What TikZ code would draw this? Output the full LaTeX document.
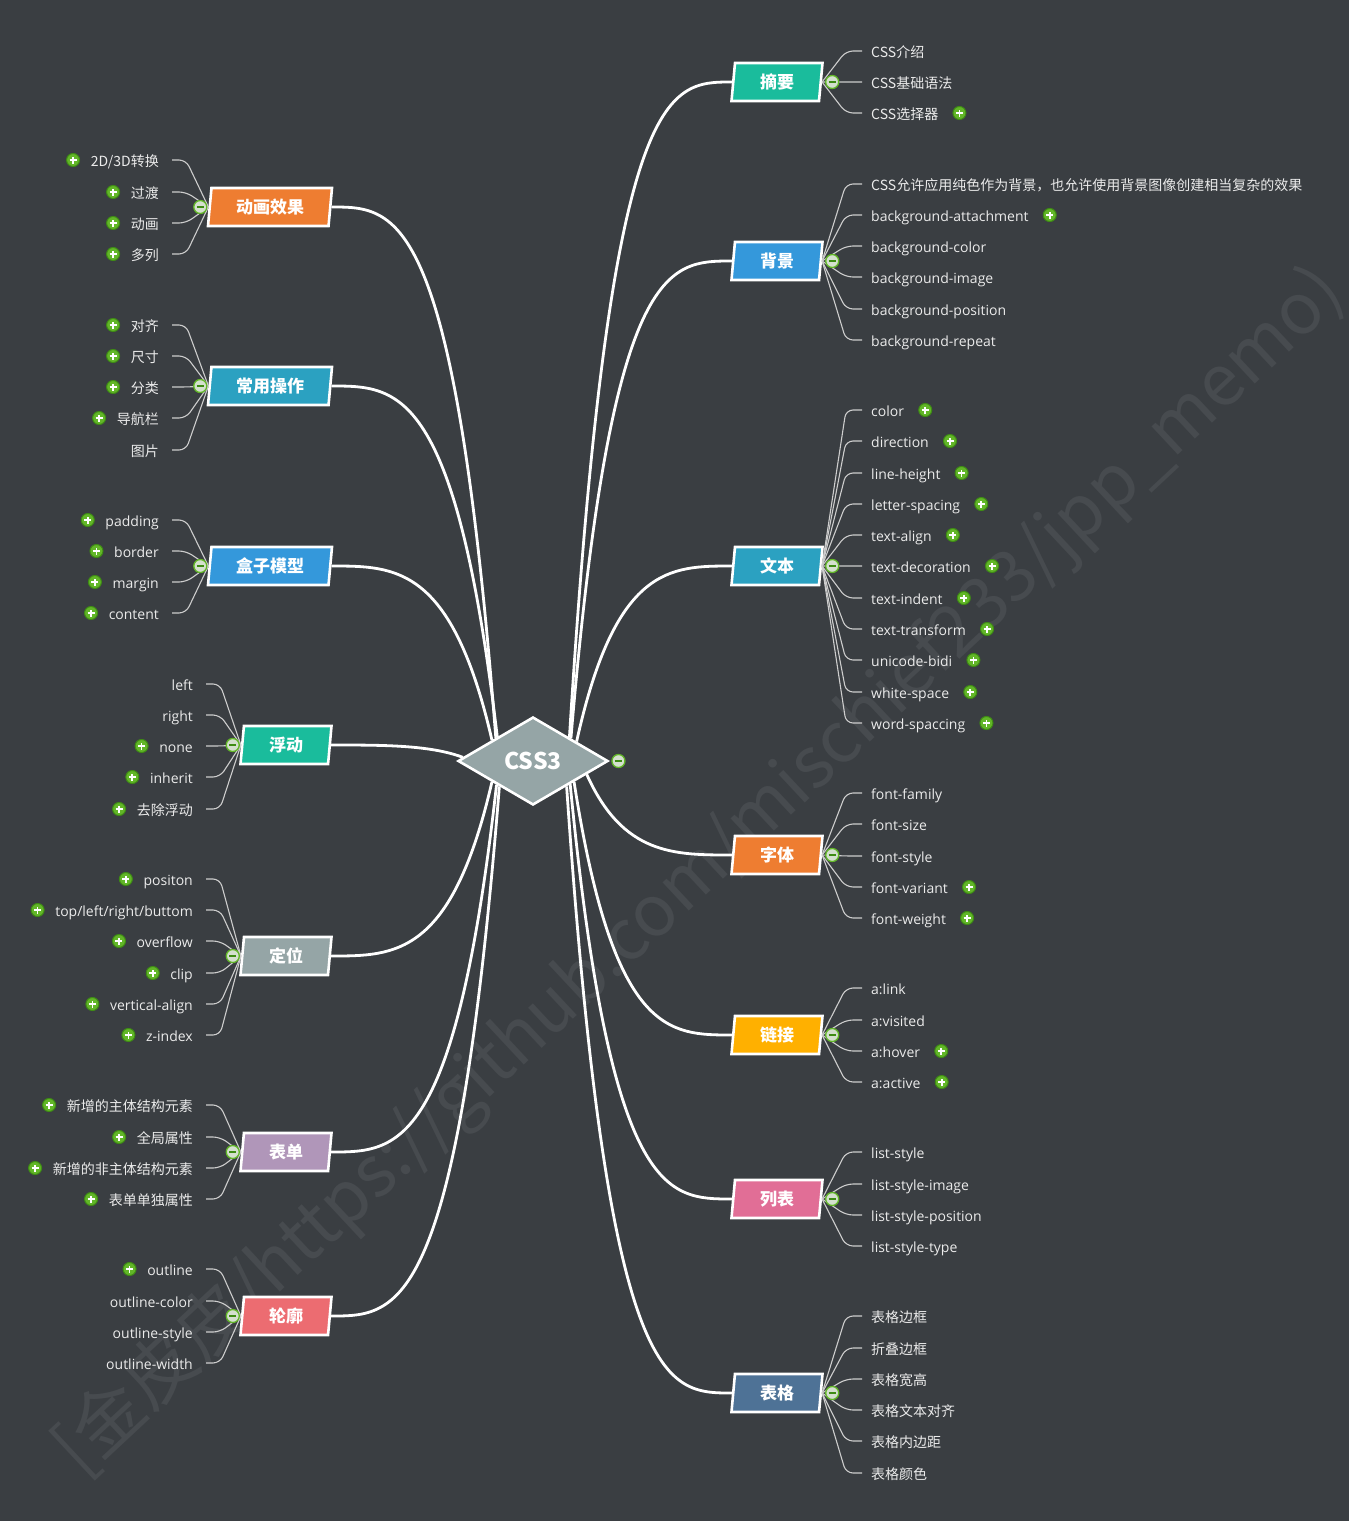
\documentclass[tikz,border=0pt]{standalone}
\usepackage{fontspec}
\setmainfont{Open Sans}
\newfontfamily\cjk{Noto Sans CJK SC}
\usetikzlibrary{shapes.geometric,positioning,calc}

\definecolor{canvas}{RGB}{58,62,66}
\definecolor{wmark}{RGB}{71,75,79}
\definecolor{hubgray}{RGB}{149,165,166}
\definecolor{cteal}{RGB}{26,188,156}
\definecolor{cblue}{RGB}{52,152,219}
\definecolor{ccyan}{RGB}{43,161,193}
\definecolor{corange}{RGB}{238,125,49}
\definecolor{camber}{RGB}{255,176,0}
\definecolor{cpink}{RGB}{225,110,150}
\definecolor{cslate}{RGB}{78,114,150}
\definecolor{cpurple}{RGB}{176,150,185}
\definecolor{cred}{RGB}{236,108,113}
\definecolor{leaftext}{RGB}{235,235,235}
\definecolor{twiggray}{RGB}{205,205,205}
\definecolor{dotgreen}{RGB}{98,182,40}
\definecolor{dotedge}{RGB}{62,140,20}
\definecolor{dotpale}{RGB}{212,224,206}

\tikzset{
  hub/.style={diamond, aspect=1.7, draw=white, line width=2.6pt, fill=hubgray,
    minimum width=150pt, minimum height=88pt, inner sep=0pt, text=white,
    font=\cjk\bfseries\fontsize{23}{26}\selectfont},
  branch/.style={trapezium, trapezium left angle=78, trapezium right angle=102,
    trapezium stretches body=true, draw=white, line width=2.6pt,
    minimum height=38pt, minimum width=91pt, inner sep=0pt, text=white,
    font=\cjk\bfseries\fontsize{17}{20}\selectfont},
  wide/.style={minimum width=124pt},
  leafr/.style={anchor=west, inner xsep=0pt, inner ysep=0pt, text height=15pt,
    text depth=1.5pt, text=leaftext, font=\fontsize{14}{16}\selectfont},
  leafl/.style={leafr, anchor=east},
  cn/.style={font=\cjk\fontsize{14}{16}\selectfont},
  twig/.style={draw=twiggray, line width=1.1pt, rounded corners=7pt},
  limb/.style={draw=white, line width=2.8pt},
  plusdot/.style={circle, draw=dotedge, fill=dotgreen, line width=1pt,
    minimum size=13pt, inner sep=0pt,
    path picture={\draw[white, line width=1.7pt]
      (path picture bounding box.west) ++(3pt,0) -- ++(7pt,0)
      (path picture bounding box.south) ++(0,3pt) -- ++(0,7pt);}},
  minusdot/.style={circle, draw=dotgreen, fill=dotpale, line width=1.3pt,
    minimum size=13pt, inner sep=0pt,
    path picture={\draw[dotedge, line width=1.8pt]
      (path picture bounding box.west) ++(3pt,0) -- ++(7pt,0);}}
}

% main connector from the hub to a branch
\newcommand{\limb}[2]{\draw[limb] let \p1=(#1), \p2=(#2) in (\p1)
  .. controls ({\x1+0.25*(\x2-\x1)},\y2) and ({\x1+0.6*(\x2-\x1)},\y2) .. (\p2);}

\begin{document}
\begin{tikzpicture}[x=1pt, y=-1pt]
\useasboundingbox (0,0) rectangle (1349,1521);
\fill[canvas] (0,0) rectangle (1349,1521);
\node[rotate=43, text=wmark, font=\cjk\fontsize{71}{76}\selectfont] (mark) at (700,872)
  {[金皮皮/https://github.com/mischief233/jpp\_memo)};

% hub and branches
\node[hub] (css) at (533,761) {CSS3};

\node[branch, fill=cteal] (zhaiyao) at (777,82) {摘要};
\node[branch, fill=cblue] (beijing) at (777,261) {背景};
\node[branch, fill=ccyan] (wenben) at (777,566) {文本};
\node[branch, fill=corange] (ziti) at (777,855) {字体};
\node[branch, fill=camber] (lianjie) at (777,1035) {链接};
\node[branch, fill=cpink] (liebiao) at (777,1199) {列表};
\node[branch, fill=cslate] (biaoge) at (777,1393) {表格};

\node[branch, wide, fill=corange] (donghua) at (270,207) {动画效果};
\node[branch, wide, fill=ccyan] (caozuo) at (270,386) {常用操作};
\node[branch, wide, fill=cblue] (hezi) at (270,566) {盒子模型};
\node[branch, fill=cteal] (fudong) at (286,745) {浮动};
\node[branch, fill=hubgray] (dingwei) at (286,956) {定位};
\node[branch, fill=cpurple] (biaodan) at (286,1152) {表单};
\node[branch, fill=cred] (lunkuo) at (286,1316) {轮廓};

\limb{css.33}{zhaiyao.west}
\limb{css.31}{beijing.west}
\limb{css.24}{wenben.west}
\limb{css.-14}{ziti.west}
\limb{css.-27}{lianjie.west}
\limb{css.-32}{liebiao.west}
\limb{css.-37}{biaoge.west}
\limb{css.148}{donghua.east}
\limb{css.146}{caozuo.east}
\limb{css.153}{hezi.east}
\limb{css.177}{fudong.east}
\limb{css.207}{dingwei.east}
\limb{css.213}{biaodan.east}
\limb{css.217}{lunkuo.east}

% right leaves
\node[leafr, cn] (zy1) at (871,51) {CSS介绍};
\node[leafr, cn] (zy2) at (871,82) {CSS基础语法};
\node[leafr, cn] (zy3) at (871,113) {CSS选择器};

\node[leafr, cn] (bj1) at (871,184) {CSS允许应用纯色作为背景，也允许使用背景图像创建相当复杂的效果};
\node[leafr] (bj2) at (871,215) {background-attachment};
\node[leafr] (bj3) at (871,246) {background-color};
\node[leafr] (bj4) at (871,277) {background-image};
\node[leafr] (bj5) at (871,309) {background-position};
\node[leafr] (bj6) at (871,340) {background-repeat};

\node[leafr] (wb1) at (871,410) {color};
\node[leafr] (wb2) at (871,441) {direction};
\node[leafr] (wb3) at (871,473) {line-height};
\node[leafr] (wb4) at (871,504) {letter-spacing};
\node[leafr] (wb5) at (871,535) {text-align};
\node[leafr] (wb6) at (871,566) {text-decoration};
\node[leafr] (wb7) at (871,598) {text-indent};
\node[leafr] (wb8) at (871,629) {text-transform};
\node[leafr] (wb9) at (871,660) {unicode-bidi};
\node[leafr] (wb10) at (871,692) {white-space};
\node[leafr] (wb11) at (871,723) {word-spaccing};

\node[leafr] (zt1) at (871,793) {font-family};
\node[leafr] (zt2) at (871,824) {font-size};
\node[leafr] (zt3) at (871,856) {font-style};
\node[leafr] (zt4) at (871,887) {font-variant};
\node[leafr] (zt5) at (871,918) {font-weight};

\node[leafr] (lj1) at (871,988) {a:link};
\node[leafr] (lj2) at (871,1020) {a:visited};
\node[leafr] (lj3) at (871,1051) {a:hover};
\node[leafr] (lj4) at (871,1082) {a:active};

\node[leafr] (lb1) at (871,1152) {list-style};
\node[leafr] (lb2) at (871,1184) {list-style-image};
\node[leafr] (lb3) at (871,1215) {list-style-position};
\node[leafr] (lb4) at (871,1246) {list-style-type};

\node[leafr, cn] (bg1) at (871,1316) {表格边框};
\node[leafr, cn] (bg2) at (871,1348) {折叠边框};
\node[leafr, cn] (bg3) at (871,1379) {表格宽高};
\node[leafr, cn] (bg4) at (871,1410) {表格文本对齐};
\node[leafr, cn] (bg5) at (871,1441) {表格内边距};
\node[leafr, cn] (bg6) at (871,1473) {表格颜色};

% left leaves
\node[leafl, cn] (dh1) at (159,160) {2D/3D转换};
\node[leafl, cn] (dh2) at (159,192) {过渡};
\node[leafl, cn] (dh3) at (159,223) {动画};
\node[leafl, cn] (dh4) at (159,254) {多列};

\node[leafl, cn] (cz1) at (159,325) {对齐};
\node[leafl, cn] (cz2) at (159,356) {尺寸};
\node[leafl, cn] (cz3) at (159,387) {分类};
\node[leafl, cn] (cz4) at (159,418) {导航栏};
\node[leafl, cn] (cz5) at (159,450) {图片};

\node[leafl] (hz1) at (159,520) {padding};
\node[leafl] (hz2) at (159,551) {border};
\node[leafl] (hz3) at (159,582) {margin};
\node[leafl] (hz4) at (159,613) {content};

\node[leafl] (fd1) at (193,684) {left};
\node[leafl] (fd2) at (193,715) {right};
\node[leafl] (fd3) at (193,746) {none};
\node[leafl] (fd4) at (193,777) {inherit};
\node[leafl, cn] (fd5) at (193,809) {去除浮动};

\node[leafl] (dw1) at (193,879) {positon};
\node[leafl] (dw2) at (193,910) {top/left/right/buttom};
\node[leafl] (dw3) at (193,941) {overflow};
\node[leafl] (dw4) at (193,973) {clip};
\node[leafl] (dw5) at (193,1004) {vertical-align};
\node[leafl] (dw6) at (193,1035) {z-index};

\node[leafl, cn] (bd1) at (193,1105) {新增的主体结构元素};
\node[leafl, cn] (bd2) at (193,1137) {全局属性};
\node[leafl, cn] (bd3) at (193,1168) {新增的非主体结构元素};
\node[leafl, cn] (bd4) at (193,1199) {表单单独属性};

\node[leafl] (lk1) at (193,1269) {outline};
\node[leafl] (lk2) at (193,1301) {outline-color};
\node[leafl] (lk3) at (193,1332) {outline-style};
\node[leafl] (lk4) at (193,1363) {outline-width};

% twigs
\foreach \l in {zy1,zy2,zy3} \draw[twig] (zhaiyao.east) -- ([xshift=-25pt]\l.west) -- ([xshift=-9pt]\l.west);
\foreach \l in {bj1,bj2,bj3,bj4,bj5,bj6} \draw[twig] (beijing.east) -- ([xshift=-25pt]\l.west) -- ([xshift=-9pt]\l.west);
\foreach \l in {wb1,wb2,wb3,wb4,wb5,wb6,wb7,wb8,wb9,wb10,wb11} \draw[twig] (wenben.east) -- ([xshift=-25pt]\l.west) -- ([xshift=-9pt]\l.west);
\foreach \l in {zt1,zt2,zt3,zt4,zt5} \draw[twig] (ziti.east) -- ([xshift=-25pt]\l.west) -- ([xshift=-9pt]\l.west);
\foreach \l in {lj1,lj2,lj3,lj4} \draw[twig] (lianjie.east) -- ([xshift=-25pt]\l.west) -- ([xshift=-9pt]\l.west);
\foreach \l in {lb1,lb2,lb3,lb4} \draw[twig] (liebiao.east) -- ([xshift=-25pt]\l.west) -- ([xshift=-9pt]\l.west);
\foreach \l in {bg1,bg2,bg3,bg4,bg5,bg6} \draw[twig] (biaoge.east) -- ([xshift=-25pt]\l.west) -- ([xshift=-9pt]\l.west);

\foreach \l in {dh1,dh2,dh3,dh4} \draw[twig] (donghua.west) -- ([xshift=27pt]\l.east) -- ([xshift=13pt]\l.east);
\foreach \l in {cz1,cz2,cz3,cz4,cz5} \draw[twig] (caozuo.west) -- ([xshift=27pt]\l.east) -- ([xshift=13pt]\l.east);
\foreach \l in {hz1,hz2,hz3,hz4} \draw[twig] (hezi.west) -- ([xshift=27pt]\l.east) -- ([xshift=13pt]\l.east);
\foreach \l in {fd1,fd2,fd3,fd4,fd5} \draw[twig] (fudong.west) -- ([xshift=27pt]\l.east) -- ([xshift=13pt]\l.east);
\foreach \l in {dw1,dw2,dw3,dw4,dw5,dw6} \draw[twig] (dingwei.west) -- ([xshift=27pt]\l.east) -- ([xshift=13pt]\l.east);
\foreach \l in {bd1,bd2,bd3,bd4} \draw[twig] (biaodan.west) -- ([xshift=27pt]\l.east) -- ([xshift=13pt]\l.east);
\foreach \l in {lk1,lk2,lk3,lk4} \draw[twig] (lunkuo.west) -- ([xshift=27pt]\l.east) -- ([xshift=13pt]\l.east);

% collapse marks
\node[minusdot, right=2pt of css.east] (cssm) {};
\node[minusdot, right=3pt of zhaiyao.east] (zhaiyaom) {};
\node[minusdot, right=3pt of beijing.east] (beijingm) {};
\node[minusdot, right=3pt of wenben.east] (wenbenm) {};
\node[minusdot, right=3pt of ziti.east] (zitim) {};
\node[minusdot, right=3pt of lianjie.east] (lianjiem) {};
\node[minusdot, right=3pt of liebiao.east] (liebiaom) {};
\node[minusdot, right=3pt of biaoge.east] (biaogem) {};
\node[minusdot, left=1pt of donghua.west] (donghuam) {};
\node[minusdot, left=1pt of caozuo.west] (caozuom) {};
\node[minusdot, left=1pt of hezi.west] (hezim) {};
\node[minusdot, left=1pt of fudong.west] (fudongm) {};
\node[minusdot, left=1pt of dingwei.west] (dingweim) {};
\node[minusdot, left=1pt of biaodan.west] (biaodanm) {};
\node[minusdot, left=1pt of lunkuo.west] (lunkuom) {};

% expand marks
\node[plusdot, right=14pt of zy3] (zy3p) {};
\node[plusdot, right=14pt of bj2] (bj2p) {};
\node[plusdot, right=14pt of wb1] (wb1p) {};
\node[plusdot, right=14pt of wb2] (wb2p) {};
\node[plusdot, right=14pt of wb3] (wb3p) {};
\node[plusdot, right=14pt of wb4] (wb4p) {};
\node[plusdot, right=14pt of wb5] (wb5p) {};
\node[plusdot, right=14pt of wb6] (wb6p) {};
\node[plusdot, right=14pt of wb7] (wb7p) {};
\node[plusdot, right=14pt of wb8] (wb8p) {};
\node[plusdot, right=14pt of wb9] (wb9p) {};
\node[plusdot, right=14pt of wb10] (wb10p) {};
\node[plusdot, right=14pt of wb11] (wb11p) {};
\node[plusdot, right=14pt of zt4] (zt4p) {};
\node[plusdot, right=14pt of zt5] (zt5p) {};
\node[plusdot, right=14pt of lj3] (lj3p) {};
\node[plusdot, right=14pt of lj4] (lj4p) {};

\node[plusdot, left=10.5pt of dh1] (dh1p) {};
\node[plusdot, left=10.5pt of dh2] (dh2p) {};
\node[plusdot, left=10.5pt of dh3] (dh3p) {};
\node[plusdot, left=10.5pt of dh4] (dh4p) {};
\node[plusdot, left=10.5pt of cz1] (cz1p) {};
\node[plusdot, left=10.5pt of cz2] (cz2p) {};
\node[plusdot, left=10.5pt of cz3] (cz3p) {};
\node[plusdot, left=10.5pt of cz4] (cz4p) {};
\node[plusdot, left=10.5pt of hz1] (hz1p) {};
\node[plusdot, left=10.5pt of hz2] (hz2p) {};
\node[plusdot, left=10.5pt of hz3] (hz3p) {};
\node[plusdot, left=10.5pt of hz4] (hz4p) {};
\node[plusdot, left=10.5pt of fd3] (fd3p) {};
\node[plusdot, left=10.5pt of fd4] (fd4p) {};
\node[plusdot, left=10.5pt of fd5] (fd5p) {};
\node[plusdot, left=10.5pt of dw1] (dw1p) {};
\node[plusdot, left=10.5pt of dw2] (dw2p) {};
\node[plusdot, left=10.5pt of dw3] (dw3p) {};
\node[plusdot, left=10.5pt of dw4] (dw4p) {};
\node[plusdot, left=10.5pt of dw5] (dw5p) {};
\node[plusdot, left=10.5pt of dw6] (dw6p) {};
\node[plusdot, left=10.5pt of bd1] (bd1p) {};
\node[plusdot, left=10.5pt of bd2] (bd2p) {};
\node[plusdot, left=10.5pt of bd3] (bd3p) {};
\node[plusdot, left=10.5pt of bd4] (bd4p) {};
\node[plusdot, left=10.5pt of lk1] (lk1p) {};
\end{tikzpicture}
\end{document}
